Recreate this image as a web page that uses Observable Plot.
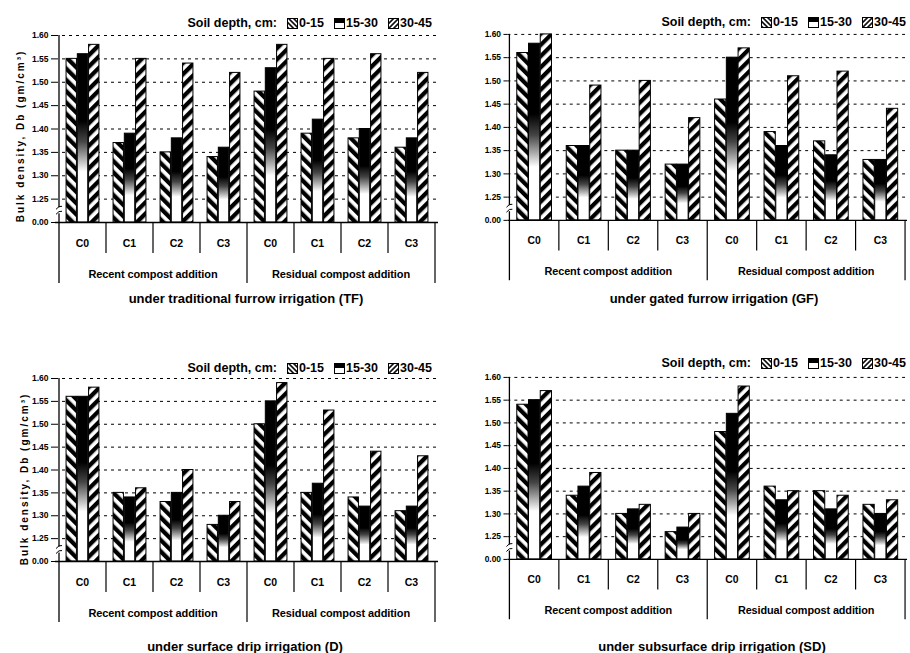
<!DOCTYPE html>
<html><head><meta charset="utf-8">
<script src="https://cdn.jsdelivr.net/npm/d3@7"></script>
<script src="https://cdn.jsdelivr.net/npm/@observablehq/plot@0.6"></script>
<style>
html,body{margin:0;padding:0;background:#fff;overflow:hidden;width:910px;height:653px;}
body{position:relative;font-family:"Liberation Sans",Arial,sans-serif;color:#000;}
.panel{position:absolute;}
.legend{position:absolute;font-weight:bold;font-size:12.5px;white-space:nowrap;display:flex;align-items:center;transform:translateY(-50%);}
.legend svg{margin:0 1px 0 0;}
.legend .gap{display:inline-block;width:10px;}
.title{position:absolute;font-weight:bold;font-size:13px;white-space:nowrap;transform:translate(-50%,-50%);}
.ylab{position:absolute;font-weight:bold;font-size:10px;letter-spacing:2px;white-space:nowrap;transform:translate(-50%,-50%) rotate(-90deg);}
</style></head>
<body>
<svg width="0" height="0" style="position:absolute">
 <defs>
  <pattern id="p0" patternUnits="userSpaceOnUse" width="8" height="8" patternTransform="rotate(-45)">
   <rect width="8" height="8" fill="white"/><rect width="4.3" height="8" fill="black"/></pattern>
  <linearGradient id="p1" x1="0" y1="0" x2="0" y2="1">
   <stop offset="0" stop-color="#000"/><stop offset="0.4" stop-color="#000"/>
   <stop offset="0.52" stop-color="#444"/><stop offset="0.62" stop-color="#aaa"/>
   <stop offset="0.7" stop-color="#fff"/><stop offset="1" stop-color="#fff"/></linearGradient>
  <pattern id="p2" patternUnits="userSpaceOnUse" width="8" height="8" patternTransform="rotate(45)">
   <rect width="8" height="8" fill="white"/><rect width="4.3" height="8" fill="black"/></pattern>
  <pattern id="l0" patternUnits="userSpaceOnUse" width="3.5" height="3.5" patternTransform="rotate(-45)">
   <rect width="3.5" height="3.5" fill="white"/><rect width="1.6" height="3.5" fill="black"/></pattern>
  <linearGradient id="l1" x1="0" y1="0" x2="0" y2="1">
   <stop offset="0" stop-color="#000"/><stop offset="0.45" stop-color="#000"/><stop offset="0.5" stop-color="#fff"/><stop offset="1" stop-color="#fff"/></linearGradient>
  <pattern id="l2" patternUnits="userSpaceOnUse" width="3.5" height="3.5" patternTransform="rotate(45)">
   <rect width="3.5" height="3.5" fill="white"/><rect width="1.6" height="3.5" fill="black"/></pattern>
 </defs>
</svg>
<script>
// ---- data ----
const depths = ["0-15", "15-30", "30-45"];
const compost = ["C0", "C1", "C2", "C3"];
const additions = ["Recent compost addition", "Residual compost addition"];
const yTicks = [1.20, 1.25, 1.30, 1.35, 1.40, 1.45, 1.50, 1.55, 1.60];
const tickLabels = ["0.00", "1.25", "1.30", "1.35", "1.40", "1.45", "1.50", "1.55", "1.60"];
const FLOOR = 1.20, YMAX = 1.60;

// traditional furrow (TF)
const tf_0_15  = [1.55, 1.37, 1.35, 1.34, 1.48, 1.39, 1.38, 1.36];
const tf_15_30 = [1.56, 1.39, 1.38, 1.36, 1.53, 1.42, 1.40, 1.38];
const tf_30_45 = [1.58, 1.55, 1.54, 1.52, 1.58, 1.55, 1.56, 1.52];
// gated furrow (GF)
const gf_0_15  = [1.56, 1.36, 1.35, 1.32, 1.46, 1.39, 1.37, 1.33];
const gf_15_30 = [1.58, 1.36, 1.35, 1.32, 1.55, 1.36, 1.34, 1.33];
const gf_30_45 = [1.60, 1.49, 1.50, 1.42, 1.57, 1.51, 1.52, 1.44];
// surface drip (D)
const d_0_15   = [1.56, 1.35, 1.33, 1.28, 1.50, 1.35, 1.34, 1.31];
const d_15_30  = [1.56, 1.34, 1.35, 1.30, 1.55, 1.37, 1.32, 1.32];
const d_30_45  = [1.58, 1.36, 1.40, 1.33, 1.59, 1.53, 1.44, 1.43];
// subsurface drip (SD)
const sd_0_15  = [1.54, 1.34, 1.30, 1.26, 1.48, 1.36, 1.35, 1.32];
const sd_15_30 = [1.55, 1.36, 1.31, 1.27, 1.52, 1.33, 1.31, 1.30];
const sd_30_45 = [1.57, 1.39, 1.32, 1.30, 1.58, 1.35, 1.34, 1.33];

const titles = ["under traditional furrow irrigation (TF)", "under gated furrow irrigation (GF)",
                "under surface drip irrigation (D)", "under subsurface drip irrigation (SD)"];
const yLabel = "Bulk density, Db (gm/cm³)";
const legendTitle = "Soil depth, cm:";

// ---- layout ----
const panels = [
  {series: [tf_0_15, tf_15_30, tf_30_45], title: titles[0], left: 0, top: 28, width: 455, mL: 55, mR: 17, mT: 7, plotH: 187,
   legX: 432, legY: 23, tX: 246, tY: 298, ylab: {x: 20, y: 136}},
  {series: [gf_0_15, gf_15_30, gf_30_45], title: titles[1], left: 455, top: 27, width: 460, mL: 53, mR: 3, mT: 7, plotH: 188,
   legX: 906, legY: 22, tX: 714, tY: 298, ylab: null},
  {series: [d_0_15, d_15_30, d_30_45], title: titles[2], left: 0, top: 371, width: 455, mL: 55, mR: 17, mT: 7, plotH: 183,
   legX: 432, legY: 368, tX: 245, tY: 646, ylab: {x: 24, y: 479}},
  {series: [sd_0_15, sd_15_30, sd_30_45], title: titles[3], left: 455, top: 370, width: 460, mL: 53, mR: 3, mT: 7, plotH: 184,
   legX: 906, legY: 363, tX: 712, tY: 646, ylab: null}
];
const fills = ["url(#p0)", "url(#p1)", "url(#p2)"];
const legendFills = ["url(#l0)", "url(#l1)", "url(#l2)"];
const FONT = '"Liberation Sans", Arial, sans-serif';

function legendEl(p) {
  const div = document.createElement("div");
  div.className = "legend";
  let html = `<span>${legendTitle}</span><span class="gap"></span>`;
  depths.forEach((d, j) => {
    html += `<svg width="11" height="11"><rect x="0.5" y="0.5" width="10" height="10" fill="${legendFills[j]}" stroke="black"/></svg><span>${d}</span>`;
    if (j < depths.length - 1) html += `<span class="gap"></span>`;
  });
  div.innerHTML = html;
  document.body.appendChild(div);
  const w = div.getBoundingClientRect().width;
  div.style.left = (p.legX - w) + "px";
  div.style.top = p.legY + "px";
}

function drawPanel(p) {
  const keys = additions.flatMap(a => compost.map(c => a + "|" + c));
  const rows = [];
  p.series.forEach((vals, j) => vals.forEach((v, i) => rows.push({key: keys[i], depth: depths[j], value: v})));
  const mB = 72;
  const height = p.mT + p.plotH + mB;
  const plotW = p.width - p.mL - p.mR;
  const bw = plotW / keys.length;
  const barW = bw * 0.235;
  const off = (bw - 3 * barW) / 2;
  const bars = depths.map((d, j) => Plot.barY(rows.filter(r => r.depth === d), {
    x: "key", y1: FLOOR, y2: "value", fill: fills[j], stroke: "black", strokeWidth: 1,
    insetLeft: off + j * barW, insetRight: bw - off - (j + 1) * barW
  }));
  const plot = Plot.plot({
    width: p.width, height, marginLeft: p.mL, marginRight: p.mR, marginTop: p.mT, marginBottom: mB,
    style: {fontFamily: FONT, background: "transparent", overflow: "visible"},
    x: {type: "band", domain: keys, padding: 0, axis: null},
    y: {domain: [FLOOR, YMAX], axis: null},
    marks: [
      Plot.ruleY(yTicks.slice(1), {stroke: "black", strokeWidth: 1, strokeDasharray: "3,4"}),
      ...bars,
      Plot.ruleY([FLOOR], {stroke: "black", strokeWidth: 1.3}),
      Plot.axisY({ticks: yTicks, tickFormat: (d) => tickLabels[yTicks.indexOf(d)], tickSize: 4, tickPadding: 3,
        fontWeight: "bold", fontSize: 8.5, label: null, stroke: "black"})
    ]
  });
  const sx = plot.scale("x"), sy = plot.scale("y");
  const svg = d3.select(plot);
  const yF = sy.apply(FLOOR), yTop = sy.apply(YMAX);
  const g = svg.append("g").attr("stroke", "black").attr("fill", "none");
  const bounds = keys.map(k => sx.apply(k)).concat([sx.apply(keys[keys.length - 1]) + sx.bandwidth]);
  bounds.forEach((x, i) => {
    const long = i % 4 === 0;
    g.append("line").attr("x1", x).attr("x2", x)
      .attr("y1", i === 0 ? yTop : yF).attr("y2", yF + (long ? 61 : 31))
      .attr("stroke-width", i === 0 ? 1.3 : 1.2);
  });
  // axis break mark
  const ym = sy.apply(1.225), ax = bounds[0];
  g.append("rect").attr("x", ax - 2).attr("y", ym - 3).attr("width", 4).attr("height", 6).attr("fill", "white").attr("stroke", "none");
  g.append("path").attr("d", `M${ax - 3},${ym - 1} q3,-4 6,-3 M${ax - 3},${ym + 4} q3,-4 6,-3`).attr("stroke-width", 1);
  const t = svg.append("g").attr("font-family", FONT).attr("font-weight", "bold").attr("text-anchor", "middle").attr("fill", "black");
  keys.forEach((k, i) => {
    t.append("text").attr("x", sx.apply(k) + sx.bandwidth / 2).attr("y", yF + 21).attr("dy", "0.35em")
      .attr("font-size", 10.5).text(compost[i % 4]);
  });
  additions.forEach((a, i) => {
    const x = sx.apply(keys[i * 4 + 2]);
    t.append("text").attr("x", x).attr("y", yF + 52).attr("dy", "0.35em").attr("font-size", 11)
      .attr("letter-spacing", "-0.1").text(a);
  });
  const holder = document.createElement("div");
  holder.className = "panel";
  holder.style.left = p.left + "px";
  holder.style.top = p.top + "px";
  holder.appendChild(plot);
  document.body.appendChild(holder);

  legendEl(p);
  const ti = document.createElement("div");
  ti.className = "title";
  ti.style.left = p.tX + "px"; ti.style.top = p.tY + "px";
  ti.textContent = p.title;
  document.body.appendChild(ti);
  if (p.ylab) {
    const yl = document.createElement("div");
    yl.className = "ylab";
    yl.style.left = p.ylab.x + "px"; yl.style.top = p.ylab.y + "px";
    yl.textContent = yLabel;
    document.body.appendChild(yl);
  }
}
panels.forEach(drawPanel);
</script>
</body></html>
